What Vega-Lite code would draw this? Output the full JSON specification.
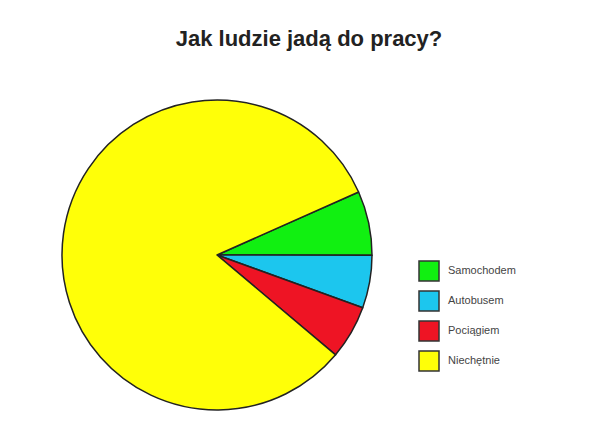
{
  "$schema": "https://vega.github.io/schema/vega-lite/v6.json",
  "width": 310,
  "height": 310,
  "autosize": "none",
  "padding": {"left": 62, "top": 100, "right": 238, "bottom": 34},
  "background": "white",
  "title": {
    "text": "Jak ludzie jadą do pracy?",
    "font": "Liberation Sans",
    "fontSize": 22,
    "fontWeight": "bold",
    "color": "#222222",
    "anchor": "middle",
    "frame": "group",
    "baseline": "alphabetic",
    "offset": 31,
    "dx": 92
  },
  "data": {
    "values": [
      {"sposob": "Samochodem", "udzial": 6.7, "kolejnosc": 1},
      {"sposob": "Autobusem", "udzial": 5.5, "kolejnosc": 2},
      {"sposob": "Pociągiem", "udzial": 5.6, "kolejnosc": 3},
      {"sposob": "Niechętnie", "udzial": 82.2, "kolejnosc": 4}
    ]
  },
  "mark": {"type": "arc", "stroke": "#222222", "strokeWidth": 1.5, "strokeJoin": "round"},
  "encoding": {
    "theta": {
      "field": "udzial",
      "type": "quantitative",
      "stack": true,
      "scale": {"range": [1.152, 7.435]}
    },
    "order": {"field": "kolejnosc", "type": "quantitative"},
    "color": {
      "field": "sposob",
      "type": "nominal",
      "scale": {
        "domain": ["Samochodem", "Autobusem", "Pociągiem", "Niechętnie"],
        "range": ["#11f011", "#1cc6ee", "#ee1424", "#ffff08"]
      },
      "legend": {
        "title": null,
        "orient": "none",
        "legendX": 356,
        "legendY": 160,
        "padding": 0,
        "symbolType": "square",
        "symbolSize": 400,
        "symbolStrokeColor": "#333333",
        "symbolStrokeWidth": 1.5,
        "symbolOpacity": 1,
        "rowPadding": 4,
        "labelOffset": 8,
        "labelFont": "Liberation Sans",
        "labelFontSize": 11,
        "labelColor": "#444444"
      }
    }
  },
  "config": {"view": {"stroke": null}}
}
